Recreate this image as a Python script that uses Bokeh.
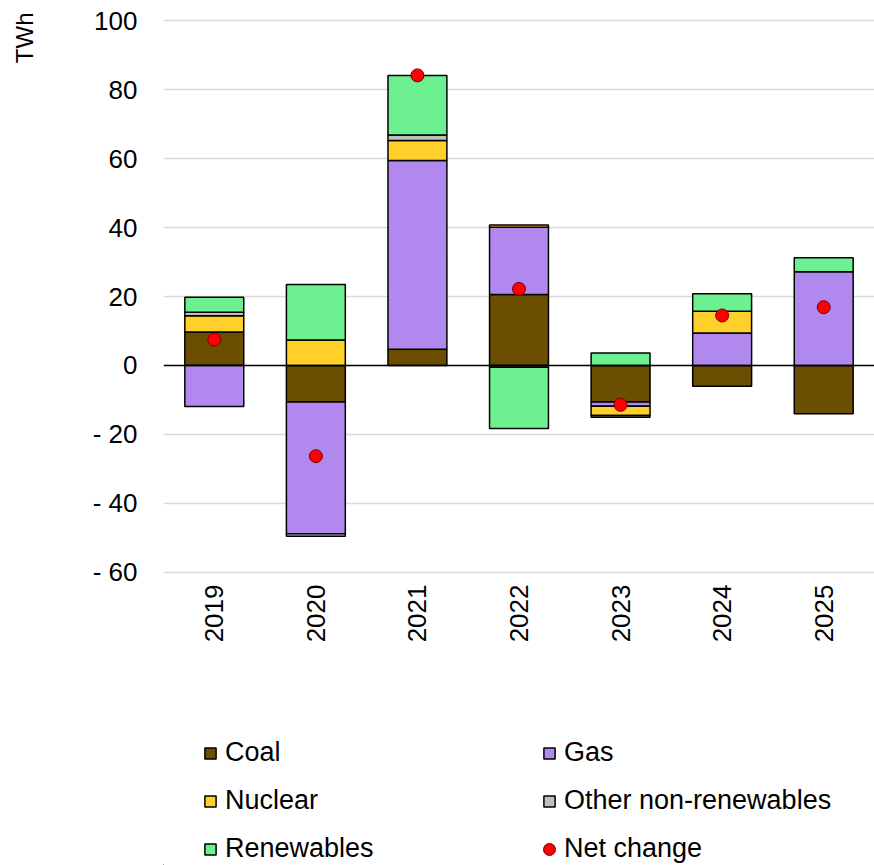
import math
from bokeh.plotting import figure
from bokeh.layouts import column
from bokeh.models import (ColumnDataSource, Range1d, FixedTicker, CustomJSTickFormatter,
                          Span, Legend, LegendItem, LinearAxis, Title)
from bokeh.embed import file_html
from bokeh.resources import INLINE

years = ["2019", "2020", "2021", "2022", "2023", "2024", "2025"]
coal = [9.7, -10.6, 4.7, 20.6, -10.6, -6.0, -14.0]
gas = [-11.9, -38.2, 54.7, 19.5, -1.2, 9.4, 27.2]
nuclear = [4.7, 7.4, 5.8, 0.6, -2.7, 6.3, 0.0]
other = [1.0, -0.7, 1.6, -0.5, -0.5, 0.0, 0.0]
renewables = [4.4, 16.1, 17.3, -17.8, 3.6, 5.1, 4.0]
net_change = [7.5, -26.3, 84.1, 22.2, -11.4, 14.5, 16.9]
y_ticks = [-60, -40, -20, 0, 20, 40, 60, 80, 100]

series_names = ["Coal", "Gas", "Nuclear", "Other non-renewables", "Renewables"]
series_vals = [coal, gas, nuclear, other, renewables]
series_colors = ["#6b4e00", "#b088ee", "#ffd02a", "#bfbfbf", "#6cf090"]
net_color = "#ff0000"

FONT = "Liberation Sans"

p = figure(width=874, height=660, output_backend="svg", toolbar_location=None,
           x_range=Range1d(0, len(years)), y_range=Range1d(-60.3, 100.3),
           min_border_left=163, min_border_right=0, min_border_top=19,
           min_border_bottom=87)
p.outline_line_color = None
p.background_fill_color = "white"
p.border_fill_color = "white"

xs = [i + 0.5 for i in range(len(years))]

pos_base = [0.0] * len(years)
neg_base = [0.0] * len(years)
for name, vals, col in zip(series_names, series_vals, series_colors):
    x_l, b_l, t_l = [], [], []
    for i, v in enumerate(vals):
        if v > 0:
            x_l.append(xs[i]); b_l.append(pos_base[i]); t_l.append(pos_base[i] + v)
            pos_base[i] += v
        elif v < 0:
            x_l.append(xs[i]); b_l.append(neg_base[i] + v); t_l.append(neg_base[i])
            neg_base[i] += v
    src = ColumnDataSource(dict(x=x_l, bottom=b_l, top=t_l))
    p.vbar(x="x", bottom="bottom", top="top", width=0.58, source=src,
           fill_color=col, line_color="black", line_width=1.5)

zero = Span(location=0, dimension="width", line_color="black", line_width=1.5)
p.add_layout(zero)

net_src = ColumnDataSource(dict(x=xs, y=net_change))
p.scatter(x="x", y="y", source=net_src, size=13, fill_color=net_color,
          line_color="#7a0000", line_width=1)

# axes
xa = p.xaxis[0]
xa.ticker = FixedTicker(ticks=xs)
xa.major_label_overrides = {x: y for x, y in zip(xs, years)}
xa.major_label_orientation = math.pi / 2
xa.axis_line_color = None
xa.major_tick_line_color = None
xa.minor_tick_line_color = None
xa.major_tick_out = 0
xa.major_tick_in = 0
xa.minor_tick_out = 0
xa.major_label_standoff = 11
xa.major_label_text_font = FONT
xa.major_label_text_font_size = "26px"
xa.major_label_text_color = "black"

ya = p.yaxis[0]
ya.ticker = FixedTicker(ticks=y_ticks)
ya.formatter = CustomJSTickFormatter(code="return tick < 0 ? '- ' + Math.abs(tick) : String(tick);")
ya.axis_line_color = None
ya.major_tick_line_color = None
ya.minor_tick_line_color = None
ya.major_tick_out = 0
ya.major_tick_in = 0
ya.minor_tick_out = 0
ya.major_label_standoff = 26
ya.major_label_text_font = FONT
ya.major_label_text_font_size = "26px"
ya.major_label_text_color = "black"

# spacer axis: one white (invisible) tick, empty label, pushes the unit title outwards
spacer = LinearAxis(ticker=FixedTicker(ticks=[0]), axis_line_color=None,
                    major_tick_line_color="white", minor_tick_line_color=None,
                    major_tick_out=46, major_tick_in=0, minor_tick_out=0, minor_tick_in=0,
                    major_label_standoff=0, major_label_overrides={0: ""},
                    major_label_text_font_size="1px")
p.add_layout(spacer, "left")

unit = Title(text="TWh", align="right", vertical_align="middle", offset=-7,
             text_font=FONT, text_font_size="24px", text_font_style="normal",
             text_color="black", standoff=10)
p.add_layout(unit, "left")

p.xgrid.grid_line_color = None
p.ygrid.grid_line_color = "#d9d9d9"
p.ygrid.grid_line_width = 1.5

# legend figure (legend proxies kept outside the visible ranges)
lf = figure(width=874, height=205, output_backend="svg", toolbar_location=None,
            x_range=Range1d(0, 1), y_range=Range1d(0, 1),
            x_axis_type=None, y_axis_type=None,
            min_border_left=0, min_border_right=0, min_border_top=0, min_border_bottom=0)
lf.outline_line_color = None
lf.xgrid.visible = False
lf.ygrid.visible = False

leg_renderers = []
for name, col in zip(series_names, series_colors):
    r = lf.vbar(x=[-0.6], bottom=[-0.6], top=[-0.4], width=0.1, fill_color=col,
                line_color="black", line_width=1.5)
    leg_renderers.append((name, r))
rn = lf.scatter(x=[-0.6], y=[-0.6], size=13, fill_color=net_color,
                line_color="#7a0000", line_width=1)

common = dict(label_text_font=FONT, label_text_font_size="27px", label_text_color="black",
              padding=0, margin=0, border_line_color=None, background_fill_alpha=0)

legend = Legend(items=[LegendItem(label=n, renderers=[r]) for n, r in leg_renderers],
                location=(40, 1), orientation="horizontal", ncols=2,
                glyph_width=14, glyph_height=14, label_standoff=8, label_width=300,
                spacing=17, **common)
lf.add_layout(legend, "center")

legend2 = Legend(items=[LegendItem(label="Net change", renderers=[rn])],
                 location=(371, 1), orientation="horizontal",
                 glyph_width=30, glyph_height=30, label_standoff=0, label_width=100,
                 spacing=0, **common)
lf.add_layout(legend2, "center")

layout = column(p, lf, spacing=0)
open("out.html", "w").write(file_html(layout, INLINE))
